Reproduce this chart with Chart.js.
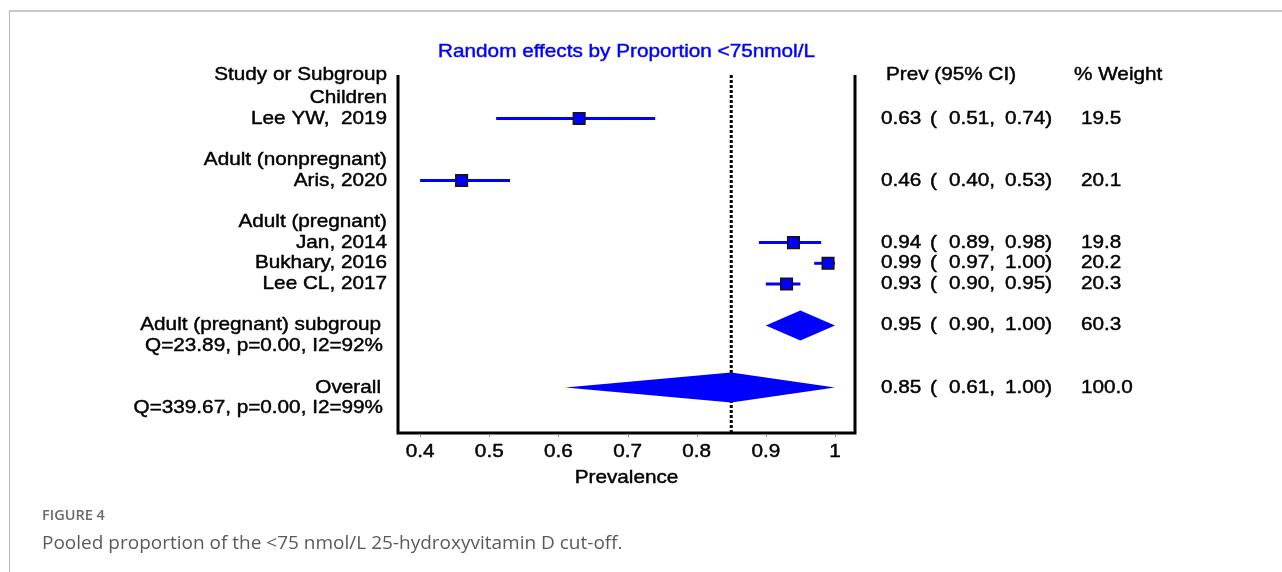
<!DOCTYPE html>
<html>
<head>
<meta charset="utf-8">
<script src="https://cdn.jsdelivr.net/npm/chart.js@4.4.1/dist/chart.umd.min.js"></script>
<style>
  html, body { margin: 0; padding: 0; background: #fff; }
  body { width: 1282px; height: 572px; position: relative; overflow: hidden; }
  #frame { position: absolute; left: 9px; top: 10px; width: 1300px; height: 600px;
           border-left: 1px solid #b4b4b4; border-top: 2px solid #c8c8c8; }
  #wrap { position: absolute; left: 0; top: 0; width: 1282px; height: 572px; }
  .fig { position: absolute; left: 42px; top: 505px; font: 600 14.5px "Open Sans", sans-serif; color: #6a6a6a; }
  .cap { position: absolute; left: 42px; top: 529px; font: 400 19px "Open Sans", sans-serif; color: #5a5a5a; }
</style>
</head>
<body>
<div id="frame"></div>
<div id="wrap"><canvas id="forest" width="1282" height="572"></canvas></div>
<div class="fig">FIGURE 4</div>
<div class="cap">Pooled proportion of the &lt;75 nmol/L 25-hydroxyvitamin D cut-off.</div>
<script>
// studies
var studies = ["Lee YW,  2019", "Aris, 2020", "Jan, 2014", "Bukhary, 2016", "Lee CL, 2017"];
var studyRows = [2, 5, 8, 9, 10];
var prev = [0.63, 0.46, 0.94, 0.99, 0.93];
var lower = [0.51, 0.40, 0.89, 0.97, 0.90];
var upper = [0.74, 0.53, 0.98, 1.00, 0.95];
var weight = ["19.5", "20.1", "19.8", "20.2", "20.3"];

// pooled estimates (diamonds)
var pooledNames = ["Adult (pregnant) subgroup", "Overall"];
var pooledRows = [12, 15];
var pooledPrev = [0.95, 0.85];
var pooledLower = [0.90, 0.61];
var pooledUpper = [1.00, 1.00];
var pooledWeight = ["60.3", "100.0"];

var groupLabels = ["Children", "Adult (nonpregnant)", "Adult (pregnant)"];
var groupRows = [1, 4, 7];
var hetLabels = ["Q=23.89, p=0.00, I2=92%", "Q=339.67, p=0.00, I2=99%"];
var hetRows = [13, 16];

var xTicks = [0.4, 0.5, 0.6, 0.7, 0.8, 0.9, 1];
var xTickLabels = ["0.4", "0.5", "0.6", "0.7", "0.8", "0.9", "1"];

var BLUE = '#0000ff';

function fmt(v) { return v.toFixed(2); }

function drawText(ctx, text, x, y, align, color) {
    ctx.save();
    ctx.translate(x, y);
    ctx.scale(1.12, 1);
    ctx.fillStyle = color || '#000';
    ctx.strokeStyle = color || '#000';
    ctx.lineWidth = 0.45;
    ctx.textAlign = align;
    ctx.textBaseline = 'middle';
    ctx.font = '18.5px "Liberation Sans", Arial, sans-serif';
    ctx.fillText(text, 0, 0);
    ctx.strokeText(text, 0, 0);
    ctx.restore();
}

var datasets = [];
// squares on top
datasets.push({
    type: 'scatter',
    data: prev.map(function (p, i) { return { x: p, y: studyRows[i] }; }),
    pointStyle: 'rect',
    pointRadius: 8.2,
    backgroundColor: BLUE,
    borderColor: '#1a1400',
    borderWidth: 1.5,
    order: 0
});
// CI lines
lower.forEach(function (lo, i) {
    datasets.push({
        type: 'line',
        data: [{ x: lo, y: studyRows[i] }, { x: upper[i], y: studyRows[i] }],
        borderColor: BLUE,
        borderWidth: 3,
        pointRadius: 0,
        order: 1
    });
});
// dotted line at the overall estimate
datasets.push({
    type: 'line',
    data: [{ x: pooledPrev[1], y: -0.1 }, { x: pooledPrev[1], y: 17.2 }],
    borderColor: '#000',
    borderWidth: 3,
    borderDash: [3, 2],
    pointRadius: 0,
    order: 2
});

var forestPlugin = {
    id: 'forest',
    afterDatasetsDraw: function (chart) {
        var ctx = chart.ctx;
        var xs = chart.scales.x, ys = chart.scales.y;
        var a = chart.chartArea;

        // diamonds
        ctx.save();
        ctx.fillStyle = BLUE;
        pooledPrev.forEach(function (p, i) {
            var yc = ys.getPixelForValue(pooledRows[i]);
            ctx.beginPath();
            ctx.moveTo(xs.getPixelForValue(pooledLower[i]), yc);
            ctx.lineTo(xs.getPixelForValue(p), yc - 15);
            ctx.lineTo(xs.getPixelForValue(pooledUpper[i]), yc);
            ctx.lineTo(xs.getPixelForValue(p), yc + 15);
            ctx.closePath();
            ctx.fill();
        });
        ctx.restore();

        // axis frame (left, right, bottom)
        ctx.save();
        ctx.strokeStyle = '#000';
        ctx.lineWidth = 3;
        ctx.beginPath();
        ctx.moveTo(a.left, a.top);
        ctx.lineTo(a.left, a.bottom);
        ctx.lineTo(a.right, a.bottom);
        ctx.lineTo(a.right, a.top);
        ctx.stroke();
        // tick marks
        ctx.strokeStyle = '#888';
        ctx.lineWidth = 1;
        xTicks.forEach(function (t) {
            var px = Math.round(xs.getPixelForValue(t)) + 0.5;
            ctx.beginPath();
            ctx.moveTo(px, a.bottom + 1);
            ctx.lineTo(px, a.bottom + 4);
            ctx.stroke();
        });
        ctx.restore();

        xTicks.forEach(function (t, i) {
            drawText(ctx, xTickLabels[i], xs.getPixelForValue(t), a.bottom + 19, 'center');
        });
        drawText(ctx, 'Prevalence', (a.left + a.right) / 2, a.bottom + 45, 'center');
        drawText(ctx, 'Random effects by Proportion <75nmol/L', (a.left + a.right) / 2, 52, 'center', BLUE);

        // left column
        var lx = a.left - 11;
        drawText(ctx, 'Study or Subgroup', lx, ys.getPixelForValue(-0.1), 'right');
        groupLabels.forEach(function (g, i) { drawText(ctx, g, lx, ys.getPixelForValue(groupRows[i]), 'right'); });
        studies.forEach(function (s, i) { drawText(ctx, s, lx, ys.getPixelForValue(studyRows[i]), 'right'); });
        pooledNames.forEach(function (s, i) { drawText(ctx, s, lx - 6, ys.getPixelForValue(pooledRows[i]), 'right'); });
        hetLabels.forEach(function (s, i) { drawText(ctx, s, lx - 4, ys.getPixelForValue(hetRows[i]), 'right'); });

        // right columns
        drawText(ctx, 'Prev (95% CI)', a.right + 31, ys.getPixelForValue(-0.1), 'left');
        drawText(ctx, '% Weight', a.right + 219, ys.getPixelForValue(-0.1), 'left');
        function rowValues(y, p, lo, hi, w) {
            drawText(ctx, fmt(p), a.right + 26, y, 'left');
            drawText(ctx, '(', a.right + 75, y, 'left');
            drawText(ctx, fmt(lo) + ',', a.right + 94, y, 'left');
            drawText(ctx, fmt(hi) + ')', a.right + 150, y, 'left');
            drawText(ctx, w, a.right + 226, y, 'left');
        }
        prev.forEach(function (p, i) {
            rowValues(ys.getPixelForValue(studyRows[i]), p, lower[i], upper[i], weight[i]);
        });
        pooledPrev.forEach(function (p, i) {
            rowValues(ys.getPixelForValue(pooledRows[i]), p, pooledLower[i], pooledUpper[i], pooledWeight[i]);
        });
    }
};

var ctx = document.getElementById('forest').getContext('2d');
var forest = new Chart(ctx, {
    type: 'scatter',
    data: { datasets: datasets },
    options: {
        responsive: false,
        animation: false,
        layout: { padding: { left: 398, right: 427, top: 75, bottom: 139 } },
        scales: {
            x: { type: 'linear', min: 0.368, max: 1.029, display: false },
            y: { type: 'linear', min: -0.1, max: 17.2, reverse: true, display: false }
        },
        plugins: {
            legend: { display: false },
            tooltip: { enabled: false }
        }
    },
    plugins: [forestPlugin]
});
</script>
</body>
</html>
